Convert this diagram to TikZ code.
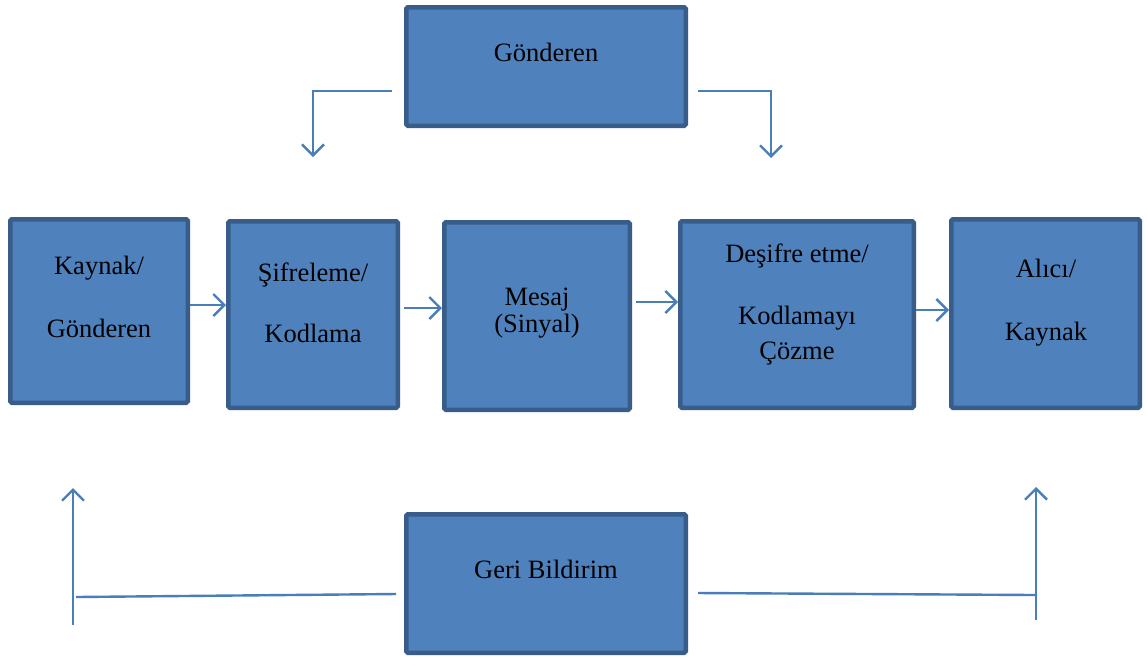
\documentclass[tikz,border=0pt]{standalone}
\usepackage{fontspec}
\setmainfont{Liberation Serif}
\usetikzlibrary{arrows.meta}
\definecolor{boxfill}{HTML}{4F81BD}
\definecolor{boxedge}{HTML}{385D8A}
\definecolor{wire}{HTML}{4A7EBB}
\begin{document}
\begin{tikzpicture}[x=1pt,y=-1pt,
  box/.style={draw=boxedge,fill=boxfill,line width=4.5pt,rounded corners=1.5pt,
    inner sep=0pt,minimum width=#1},
  lbl/.style={anchor=base,inner sep=0pt,font=\fontsize{26.5}{30}\selectfont},
  wire/.style={draw=wire,line width=2.4pt},
  flow/.style={wire,-{Straight Barb[length=11pt,width=22pt,line width=2.4pt]}}]
\useasboundingbox[fill=white] (0,0) rectangle (1147,657);
% boxes
\node[box=279.5pt,minimum height=118.5pt] (top) at (546,66.5) {};
\node[box=177.5pt,minimum height=183.5pt] (src) at (99,311) {};
\node[box=169.5pt,minimum height=186.5pt] (enc) at (313,314.5) {};
\node[box=185.5pt,minimum height=187.5pt] (msg) at (537,316) {};
\node[box=233.5pt,minimum height=186.5pt] (dec) at (797,314.5) {};
\node[box=188.5pt,minimum height=188.5pt] (rcv) at (1045.5,313.5) {};
\node[box=279.5pt,minimum height=138.5pt] (fb) at (546,583.5) {};
% labels
\node[lbl] (t1) at (546,61) {Gönderen};
\node[lbl] (t2) at (99,274) {Kaynak/};
\node[lbl] (t3) at (99,337) {Gönderen};
\node[lbl] (t4) at (313,281) {Şifreleme/};
\node[lbl] (t5) at (313,342) {Kodlama};
\node[lbl] (t6) at (537,305) {Mesaj};
\node[lbl] (t7) at (537,332) {(Sinyal)};
\node[lbl] (t8) at (797,262) {Deşifre etme/};
\node[lbl] (t9) at (797,324) {Kodlamayı};
\node[lbl] (t10) at (797,359) {Çözme};
\node[lbl] (t11) at (1046,277) {Alıcı/};
\node[lbl] (t12) at (1046,340) {Kaynak};
\node[lbl] (t13) at (546,578) {Geri Bildirim};
% forward chain
\draw[flow] (src.east |- 0,305) -- (enc.west |- 0,305);
\draw[flow] ([xshift=4pt]enc.east |- 0,308) -- (msg.west |- 0,308);
\draw[flow] ([xshift=4pt]msg.east |- 0,302) -- (dec.west |- 0,302);
\draw[flow] (dec.east |- 0,310) -- (rcv.west |- 0,310);
% sender branches
\coordinate (topL) at ([xshift=-12pt]top.west |- 0,91);
\coordinate (topR) at ([xshift=10pt]top.east |- 0,91);
\draw[flow] (topL) -| ([yshift=62pt]enc.north);
\draw[flow] (topR) -| ([xshift=-26pt,yshift=61pt]dec.north);
% feedback branches
\coordinate (fbL0) at (73,625);
\coordinate (fbL1) at (76,597);
\coordinate (fbR0) at (1036,620);
\coordinate (fbR1) at (1035,595);
\draw[flow] (fbL0) -- ([xshift=-26pt,yshift=-83pt]src.south);
\draw[wire] (fbL1) -- ([xshift=-8pt]fb.west |- 0,594);
\draw[wire] ([xshift=10pt]fb.east |- 0,593) -- (fbR1);
\draw[flow] (fbR0) -- ([xshift=-9.5pt,yshift=-77pt]rcv.south);
\end{tikzpicture}
\end{document}
